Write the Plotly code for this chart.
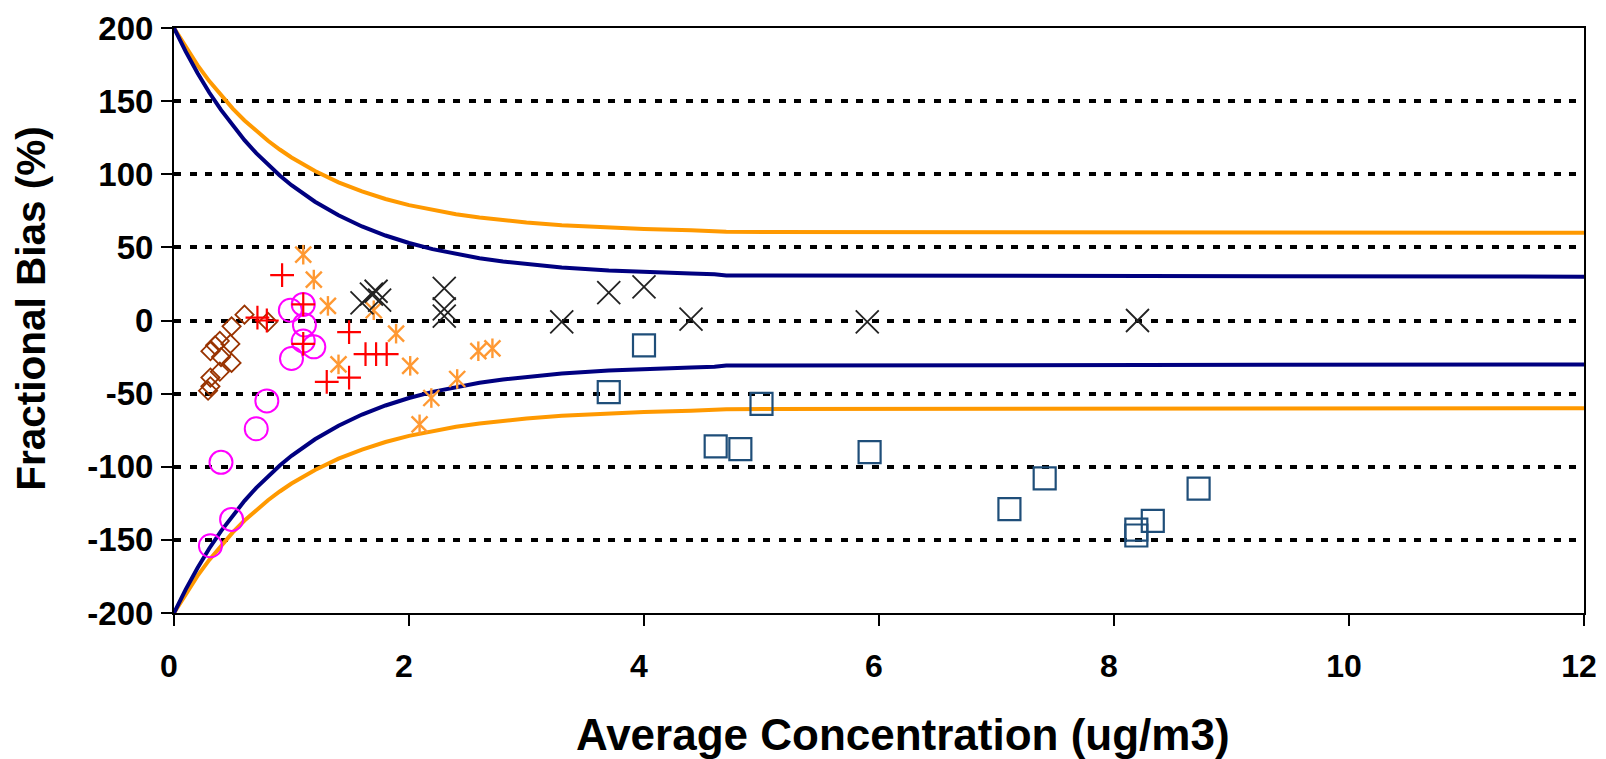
import plotly.graph_objects as go

# Performance goal / criteria curves
curve_x = [0, 0.1, 0.2, 0.3, 0.4, 0.5, 0.6, 0.7, 0.8, 0.9, 1.0, 1.2, 1.4, 1.6, 1.8, 2.0,
           2.2, 2.4, 2.6, 2.8, 3.0, 3.3, 3.7, 4.0, 4.4, 4.6, 4.7, 12]
goal_upper = [200, 183.8, 169.2, 155.9, 144.0, 133.1, 123.3, 114.4, 106.4, 99.1, 92.5, 81.2,
              71.9, 64.3, 58.1, 53.0, 48.8, 45.4, 42.6, 40.3, 38.5, 36.3, 34.2, 33.1, 32.1,
              31.7, 30.8, 30.0]
goal_lower = [-200, -183.8, -169.2, -155.9, -144.0, -133.1, -123.3, -114.4, -106.4, -99.1, -92.5,
              -81.2, -71.9, -64.3, -58.1, -53.0, -48.8, -45.4, -42.6, -40.3, -38.5, -36.3, -34.2,
              -33.1, -32.1, -31.7, -30.8, -30.0]
crit_upper = [200, 186.7, 174.6, 163.7, 153.8, 144.9, 136.8, 129.5, 122.9, 116.9, 111.5, 102.2,
              94.5, 88.3, 83.1, 78.9, 75.5, 72.7, 70.4, 68.5, 67.0, 65.2, 63.5, 62.6, 61.7,
              61.4, 60.6, 60.0]
crit_lower = [-200, -186.7, -174.6, -163.7, -153.8, -144.9, -136.8, -129.5, -122.9, -116.9, -111.5,
              -102.2, -94.5, -88.3, -83.1, -78.9, -75.5, -72.7, -70.4, -68.5, -67.0, -65.2, -63.5,
              -62.6, -61.7, -61.4, -60.6, -60.0]

# Observation series
diamond_x = [0.31, 0.35, 0.39, 0.49, 0.60, 0.80, 0.48, 0.49, 0.39, 0.31, 0.31, 0.29, 0.40]
diamond_y = [-21, -17, -14, -4, 4, -1, -16, -29, -35, -39, -45, -48, -25]

circle_x = [0.99, 1.10, 1.11, 1.10, 1.19, 1.00, 0.79, 0.70, 0.40, 0.49, 0.31]
circle_y = [7, 11, -3, -14, -18, -26, -55, -74, -97, -136, -154]

plus_x = [0.92, 0.71, 0.79, 1.10, 1.10, 1.49, 1.63, 1.72, 1.81, 1.30, 1.49]
plus_y = [31, 2, 0, 11, -16, -8, -23, -23, -23, -42, -39]

star_x = [1.10, 1.19, 1.31, 1.70, 1.89, 1.40, 2.01, 2.59, 2.71, 2.41, 2.19, 2.09]
star_y = [45, 28, 10, 7, -9, -30, -31, -21, -19, -40, -53, -71]

cross_x = [1.60, 1.68, 1.72, 1.75, 2.30, 2.30, 2.30, 3.30, 3.70, 4.00, 4.40, 5.90, 8.20]
cross_y = [12, 18, 20, 14, 22, 8, 3, -1, 19, 23, 1, -1, 0]

square_x = [4.00, 3.70, 5.00, 4.61, 4.82, 5.92, 7.41, 7.11, 8.72, 8.33, 8.19, 8.19]
square_y = [-17, -49, -57, -86, -88, -90, -108, -129, -115, -137, -143, -147]

x_ticks = [0, 2, 4, 6, 8, 10, 12]
y_ticks = [-200, -150, -100, -50, 0, 50, 100, 150, 200]

x_title = "Average Concentration (ug/m3)"
y_title = "Fractional Bias (%)"

NAVY = "#000080"
ORANGE = "#FF9900"

fig = go.Figure()

for ys, col in [(crit_upper, ORANGE), (crit_lower, ORANGE), (goal_upper, NAVY), (goal_lower, NAVY)]:
    fig.add_trace(go.Scatter(x=curve_x, y=ys, mode="lines",
                             line=dict(color=col, width=4), hoverinfo="skip"))

fig.add_trace(go.Scatter(x=diamond_x, y=diamond_y, mode="markers",
                         marker=dict(symbol="diamond-open", size=14, color="#993300",
                                     line=dict(color="#993300", width=1.8))))
fig.add_trace(go.Scatter(x=circle_x, y=circle_y, mode="markers",
                         marker=dict(symbol="circle-open", size=23, color="#FF00FF",
                                     line=dict(color="#FF00FF", width=2))))
fig.add_trace(go.Scatter(x=plus_x, y=plus_y, mode="markers",
                         marker=dict(symbol="cross-thin-open", size=17, color="#FF0000",
                                     line=dict(color="#FF0000", width=2.2))))
# Excel-style star: an X plus a vertical bar
fig.add_trace(go.Scatter(x=star_x, y=star_y, mode="markers",
                         marker=dict(symbol="x-thin-open", size=16, color="#FF9933",
                                     line=dict(color="#FF9933", width=2.4))))
fig.add_trace(go.Scatter(x=star_x, y=star_y, mode="markers",
                         marker=dict(symbol="line-ns-open", size=14, color="#FF9933",
                                     line=dict(color="#FF9933", width=2.4))))
fig.add_trace(go.Scatter(x=cross_x, y=cross_y, mode="markers",
                         marker=dict(symbol="x-thin-open", size=23, color="#222222",
                                     line=dict(color="#222222", width=1.8))))
fig.add_trace(go.Scatter(x=square_x, y=square_y, mode="markers",
                         marker=dict(symbol="square-open", size=22, color="#1F4E79",
                                     line=dict(color="#1F4E79", width=2.2))))

tick_font = dict(family="Liberation Sans, Arial, sans-serif", size=33, color="black", weight="bold")
xtick_font = dict(family="Liberation Sans, Arial, sans-serif", size=32, color="black", weight="bold")

# The page body adds an 8px margin, so the figure is sized and offset to compensate.
fig.update_layout(
    width=1598, height=751,
    margin=dict(l=166, r=22, t=20, b=146),
    paper_bgcolor="white", plot_bgcolor="white",
    showlegend=False,
    xaxis=dict(range=[0, 12], tickvals=x_ticks, ticktext=[str(v) for v in x_ticks],
               automargin=False, ticklabeloverflow="allow",
               showgrid=False, zeroline=False,
               showline=True, linecolor="black", linewidth=2, mirror=True,
               ticks="outside", ticklen=11, tickwidth=2, tickcolor="black",
               tickfont=xtick_font, ticklabelstandoff=13, ticklabelshift=-5),
    yaxis=dict(range=[-200, 200], tickvals=y_ticks, ticktext=[str(v) for v in y_ticks],
               automargin=False,
               showgrid=True, gridcolor="black", gridwidth=3.5, griddash="7px,8.5px",
               zeroline=False,
               showline=True, linecolor="black", linewidth=2, mirror=True,
               ticks="outside", ticklen=11, tickwidth=2, tickcolor="black",
               tickfont=tick_font, ticklabelstandoff=1),
    annotations=[
        dict(text=x_title, xref="paper", yref="paper", x=0.517, y=-0.207,
             xanchor="center", yanchor="middle", showarrow=False,
             font=dict(family="Liberation Sans, Arial, sans-serif", size=44,
                       color="black", weight="bold")),
        dict(text=y_title, xref="paper", yref="paper", x=-0.1014, y=0.52,
             xanchor="center", yanchor="middle", showarrow=False, textangle=-90,
             font=dict(family="Liberation Sans, Arial, sans-serif", size=40.5,
                       color="black", weight="bold")),
    ],
)

fig.write_html("out.html")
